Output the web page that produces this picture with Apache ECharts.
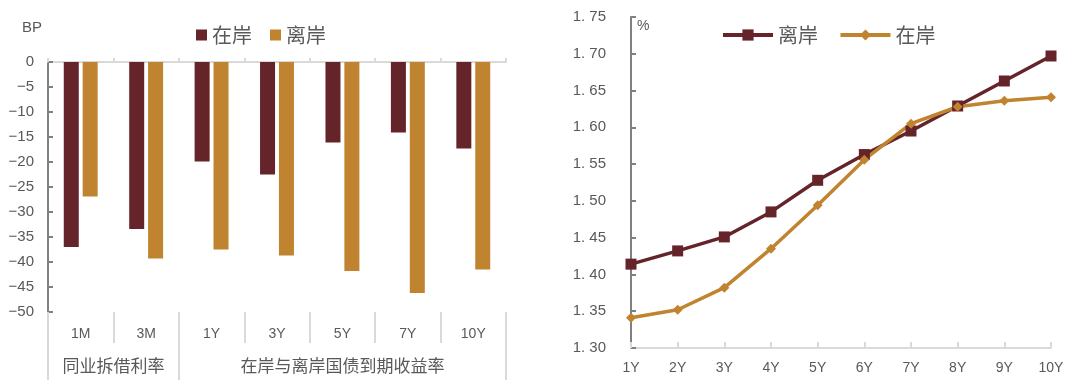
<!DOCTYPE html>
<html>
<head>
<meta charset="utf-8">
<script src="https://cdn.jsdelivr.net/npm/echarts@6/dist/echarts.min.js"></script>
<style>
html,body{margin:0;padding:0;background:#fff;}
#c{width:1080px;height:388px;}
</style>
</head>
<body>
<div id="c"></div>
<script>
// Left chart data (BP)
const barCategories = ['1M', '3M', '1Y', '3Y', '5Y', '7Y', '10Y'];
const onshoreSpread = [-37.0, -33.4, -19.9, -22.5, -16.1, -14.1, -17.3];
const offshoreSpread = [-26.9, -39.3, -37.5, -38.7, -41.8, -46.2, -41.5];
const groupNames = ['同业拆借利率', '在岸与离岸国债到期收益率'];
const groupSpans = [2, 5];

// Right chart data (%)
const tenors = ['1Y', '2Y', '3Y', '4Y', '5Y', '6Y', '7Y', '8Y', '9Y', '10Y'];
const offshoreYield = [1.414, 1.432, 1.451, 1.485, 1.528, 1.563, 1.595, 1.629, 1.663, 1.697];
const onshoreYield = [1.341, 1.352, 1.382, 1.435, 1.494, 1.556, 1.605, 1.628, 1.636, 1.641];

const DARK = '#65242a';
const GOLD = '#c0832f';
const TXT = '#595959';
const CJK = '"Noto Sans CJK SC", "Liberation Sans", sans-serif';
const NUM = '"Liberation Sans", Arial, sans-serif';
const NARROW = '"Liberation Sans Narrow", "Liberation Sans", sans-serif';

// Build half-step group axis: 2*N+1 points at category half boundaries
const totalCats = groupSpans.reduce((a, b) => a + b, 0);
const groupAxisData = new Array(totalCats * 2 + 1).fill('');
const groupTickIdx = [0];
let acc = 0;
groupSpans.forEach((s, i) => {
  groupAxisData[acc * 2 + s] = groupNames[i];
  acc += s;
  groupTickIdx.push(acc * 2);
});

const chart = echarts.init(document.getElementById('c'));
chart.setOption({
  animation: false,
  backgroundColor: '#fff',
  legend: [
    {
      data: ['在岸', '离岸'],
      left: 191, top: 20,
      icon: 'rect', itemWidth: 11, itemHeight: 11, itemGap: 18,
      textStyle: { fontSize: 20, color: TXT, fontFamily: CJK }
    },
    {
      data: ['离岸 ', '在岸 '],
      left: 716, top: 20,
      itemWidth: 50, itemHeight: 14, itemGap: 16,
      lineStyle: { width: 4 },
      textStyle: { fontSize: 20, color: TXT, fontFamily: CJK }
    }
  ],
  grid: [
    { left: 48, right: 574, top: 62, bottom: 76 },
    { left: 631, right: 29, top: 17, bottom: 40 }
  ],
  xAxis: [
    {
      gridIndex: 0, type: 'category', data: barCategories, position: 'bottom',
      axisLine: { show: false, onZero: false },
      axisTick: { show: true, length: 31, lineStyle: { color: '#d9d9d9', width: 2 } },
      axisLabel: { margin: 15, fontSize: 14, color: TXT, fontFamily: NARROW }
    },
    {
      gridIndex: 0, type: 'category', data: groupAxisData, boundaryGap: false, position: 'bottom',
      axisLine: { show: false, onZero: false },
      axisTick: { show: true, length: 68, interval: (i) => groupTickIdx.indexOf(i) >= 0,
        lineStyle: { color: '#d9d9d9', width: 2 } },
      axisLabel: { margin: 45, fontSize: 17, color: TXT, fontFamily: CJK,
        interval: (i, v) => v !== '' }
    },
    {
      gridIndex: 0, type: 'category', data: barCategories, position: 'top',
      axisLine: { show: true, onZero: false, lineStyle: { color: '#d9d9d9', width: 2 } },
      axisTick: { show: true, length: 4, lineStyle: { color: '#d9d9d9', width: 2 } },
      axisLabel: { show: false }
    },
    {
      gridIndex: 1, type: 'category', data: tenors, boundaryGap: false,
      axisLine: { show: true, onZero: false, lineStyle: { color: '#d9d9d9', width: 2 } },
      axisTick: { show: true, inside: true, length: 6, lineStyle: { color: '#d9d9d9', width: 2 } },
      axisLabel: { margin: 13, fontSize: 14, color: TXT, fontFamily: NUM }
    }
  ],
  yAxis: [
    {
      gridIndex: 0, type: 'value', min: -50, max: 0, interval: 5,
      name: 'BP', nameLocation: 'end', nameGap: 27,
      nameTextStyle: { fontSize: 15, color: TXT, fontFamily: NUM, align: 'right', padding: [0, 6, 0, 0] },
      axisLine: { show: true, lineStyle: { color: '#808080', width: 2 } },
      axisTick: { show: true, inside: true, length: 5, lineStyle: { color: '#808080', width: 2 } },
      splitLine: { show: false },
      axisLabel: { margin: 14, fontSize: 15, color: TXT, fontFamily: NUM,
        formatter: (v) => String(v).replace('-', '−') }
    },
    {
      gridIndex: 1, type: 'value', min: 1.30, max: 1.75, interval: 0.05,
      name: '%', nameLocation: 'end', nameGap: -2,
      nameTextStyle: { fontSize: 14, color: TXT, fontFamily: NUM, align: 'left', verticalAlign: 'top', padding: [0, 0, 0, 6] },
      axisLine: { show: true, lineStyle: { color: '#808080', width: 2 } },
      axisTick: { show: true, inside: true, length: 5, lineStyle: { color: '#808080', width: 2 } },
      splitLine: { show: false },
      axisLabel: { margin: 25, fontSize: 15, color: TXT, fontFamily: NUM,
        formatter: (v) => v.toFixed(2).replace('.', '. ') }
    }
  ],
  series: [
    {
      name: '在岸', type: 'bar', xAxisIndex: 0, yAxisIndex: 0, data: onshoreSpread,
      barWidth: 15, barGap: '26%', itemStyle: { color: DARK }
    },
    {
      name: '离岸', type: 'bar', xAxisIndex: 0, yAxisIndex: 0, data: offshoreSpread,
      barWidth: 15, barGap: '26%', itemStyle: { color: GOLD }
    },
    {
      name: '离岸 ', type: 'line', xAxisIndex: 3, yAxisIndex: 1, data: offshoreYield,
      symbol: 'rect', symbolSize: 11, lineStyle: { color: DARK, width: 3.5 },
      itemStyle: { color: DARK }
    },
    {
      name: '在岸 ', type: 'line', xAxisIndex: 3, yAxisIndex: 1, data: onshoreYield,
      symbol: 'diamond', symbolSize: 10, lineStyle: { color: GOLD, width: 3.5 },
      itemStyle: { color: GOLD }
    }
  ]
});
</script>
</body>
</html>
